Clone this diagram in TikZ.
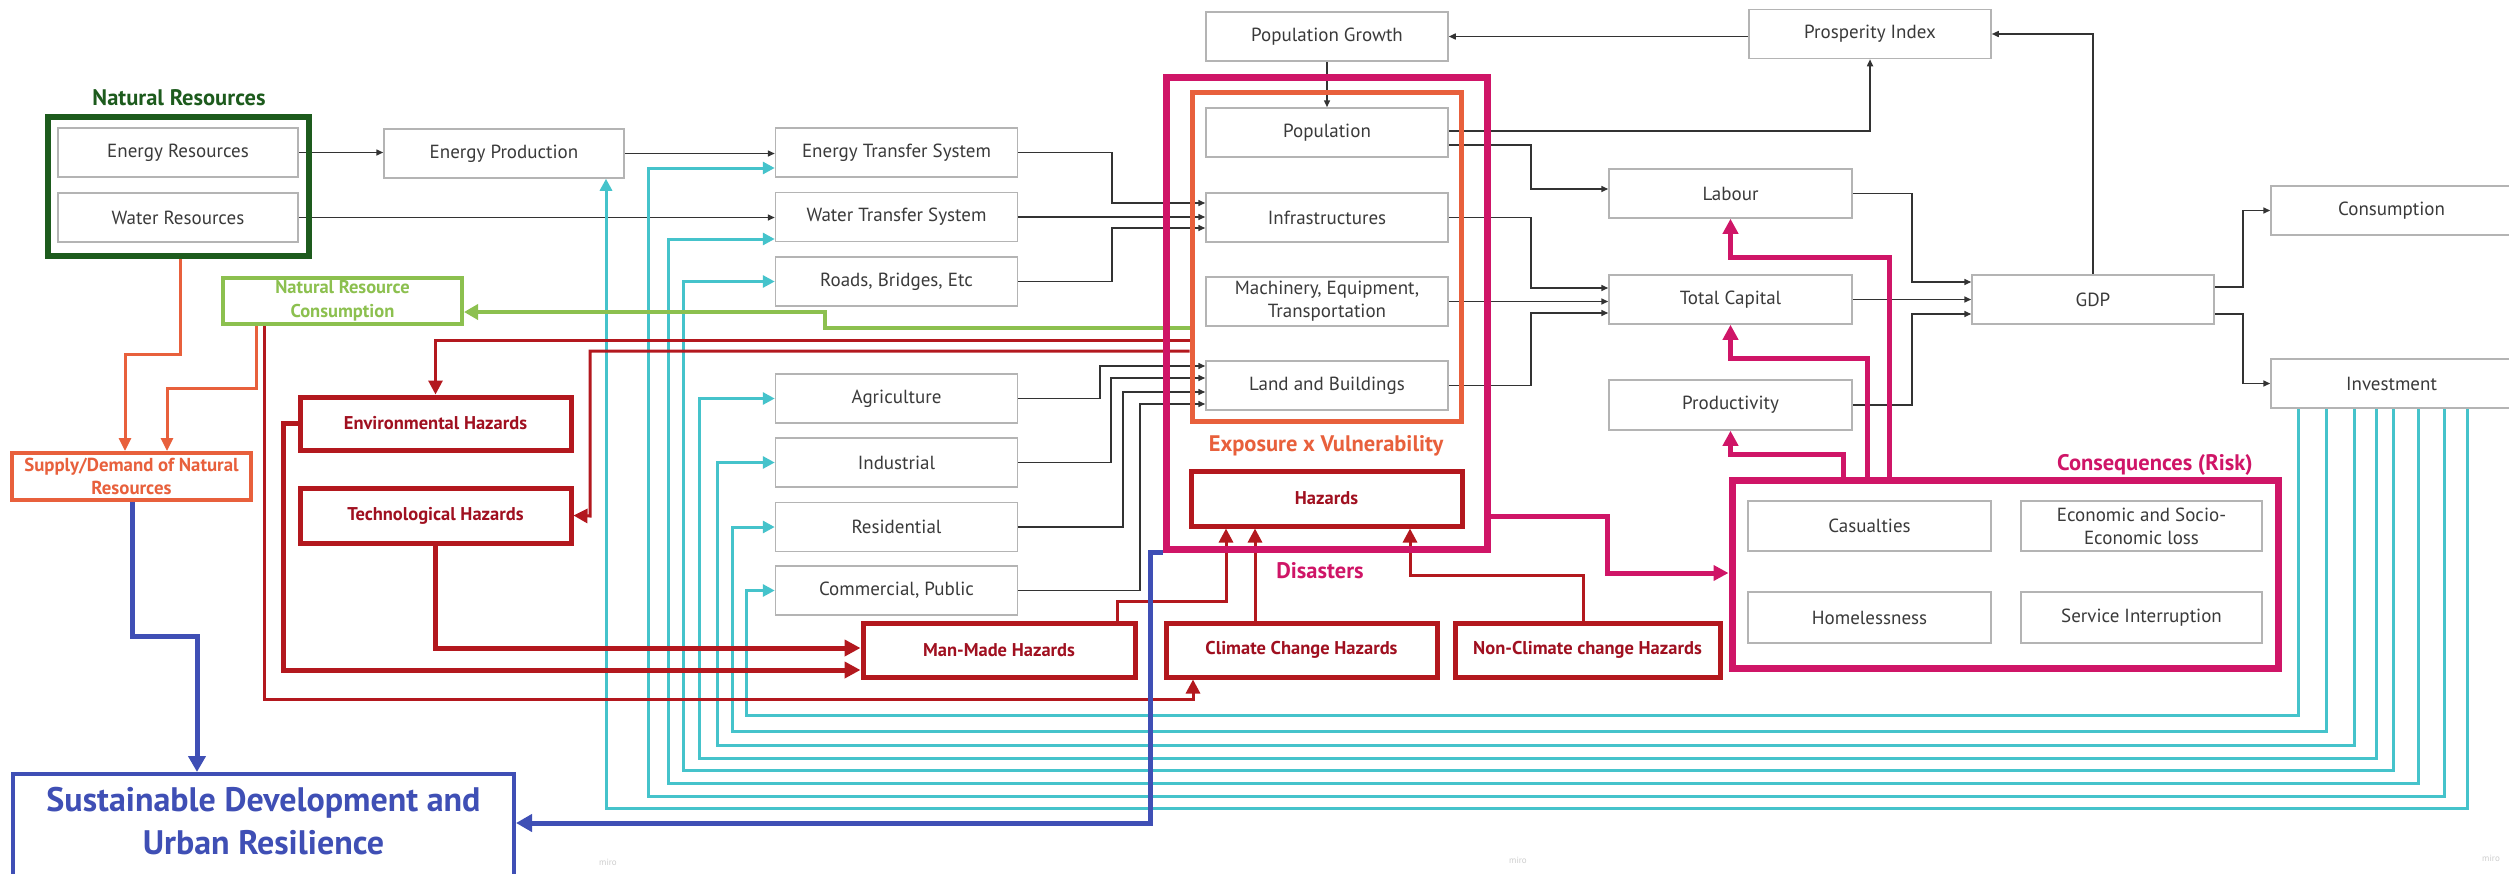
\documentclass[tikz,border=0pt]{standalone}
\usepackage{fontspec}
\setmainfont{PT Sans}
\usetikzlibrary{arrows.meta}

\definecolor{boxgray}{HTML}{B4B4B4}
\definecolor{txtgray}{HTML}{3A3A3A}
\definecolor{linegray}{HTML}{333333}
\definecolor{nrgreen}{HTML}{1D5B1D}
\definecolor{ltgreen}{HTML}{8CC04F}
\definecolor{orng}{HTML}{E8603C}
\definecolor{hzred}{HTML}{B3181E}
\definecolor{hztext}{HTML}{A01020}
\definecolor{mag}{HTML}{CF1567}
\definecolor{cyanc}{HTML}{45C3CB}
\definecolor{sdblue}{HTML}{3F4FB5}

\pgfdeclarelayer{bg}
\pgfsetlayers{bg,main}

\tikzset{
  gbox/.style={draw=boxgray, line width=1.5pt, fill=white, text=txtgray,
    font=\fontsize{19}{23}\selectfont, align=center, inner sep=0pt,
    minimum width=242pt, minimum height=49pt},
  hzbox/.style={draw=hzred, line width=5pt, fill=white, text=hztext,
    font=\bfseries\fontsize{18.5}{22}\selectfont, align=center, inner sep=0pt},
  grp/.style={inner sep=0pt},
  tlabel/.style={font=\bfseries\fontsize{22.5}{26}\selectfont, inner sep=0pt},
  conn/.style={draw=linegray, line width=1.5pt, -{Triangle[length=7pt,width=6pt]}},
  cyanline/.style={draw=cyanc, line width=3pt, -{Triangle[length=12pt,width=12pt]}},
  redthin/.style={draw=hzred, line width=3pt, -{Triangle[length=14pt,width=14pt]}},
  redthick/.style={draw=hzred, line width=5pt, -{Triangle[length=16pt,width=16pt]}},
  orline/.style={draw=orng, line width=3pt, -{Triangle[length=13pt,width=12pt]}},
  grline/.style={draw=ltgreen, line width=4pt, -{Triangle[length=14pt,width=15pt]}},
  magline/.style={draw=mag, line width=5pt, -{Triangle[length=15pt,width=15pt]}},
  blline/.style={draw=sdblue, line width=5pt, -{Triangle[length=16pt,width=17pt]}},
  wmark/.style={font=\fontsize{9}{9}\selectfont, text=black!20}
}

\begin{document}
\begin{tikzpicture}[x=1pt,y=-1pt]
\useasboundingbox (0,0) rectangle (2509,873);
\clip (0,0) rectangle (2509,873);

% ---------- natural resources ----------
\node[tlabel, text=nrgreen] (nrlab) at (179,98) {Natural Resources};
\node[grp, draw=nrgreen, line width=5.5pt, minimum width=261pt, minimum height=139pt] (nrbox) at (178.5,186.5) {};
\node[gbox, minimum width=240pt] (er) at (178,152.5) {Energy Resources};
\node[gbox, minimum width=240pt] (wr) at (178,217.5) {Water Resources};
\node[gbox, minimum width=240pt] (ep) at (504,153.5) {Energy Production};

\node[grp, draw=ltgreen, line width=4pt, fill=white, text=ltgreen, align=center,
      font=\bfseries\fontsize{18.5}{24}\selectfont, minimum width=239pt, minimum height=46pt] (nrc) at (342.5,301) {Natural Resource\\Consumption};
\node[grp, draw=orng, line width=4pt, fill=white, text=orng, align=center,
      font=\bfseries\fontsize{18.8}{23}\selectfont, minimum width=239pt, minimum height=47pt] (sup) at (131.5,476.5) {Supply/Demand of Natural\\Resources};

% ---------- sectors ----------
\node[gbox] (ets) at (896.5,152.5) {Energy Transfer System};
\node[gbox] (wts) at (896.5,217) {Water Transfer System};
\node[gbox] (rbe) at (896.5,281.5) {Roads, Bridges, Etc};
\node[gbox] (agr) at (896.5,398.5) {Agriculture};
\node[gbox] (ind) at (896.5,462.5) {Industrial};
\node[gbox] (res) at (896.5,527) {Residential};
\node[gbox] (com) at (896.5,590.5) {Commercial, Public};

% ---------- hazards ----------
\node[hzbox, minimum width=271pt, minimum height=53pt] (env) at (435.5,423.5) {Environmental Hazards};
\node[hzbox, minimum width=271pt, minimum height=55pt] (tech) at (435.5,515.5) {Technological Hazards};
\node[hzbox, minimum width=272pt, minimum height=54pt] (man) at (999,650) {Man-Made Hazards};
\node[hzbox, minimum width=271pt, minimum height=54pt] (cc) at (1301.5,650) {Climate Change Hazards};
\node[hzbox, minimum width=265pt, minimum height=54pt] (nc) at (1587.5,650) {Non-Climate change Hazards};

% ---------- exposure / disasters ----------
\node[grp, draw=mag, line width=7pt, minimum width=321pt, minimum height=472pt] (dbox) at (1326.5,313) {};
\node[grp, draw=orng, line width=5pt, minimum width=269pt, minimum height=329pt] (ebox) at (1326.5,256.5) {};
\node[gbox] (pg) at (1327,36.5) {Population Growth};
\node[gbox] (pop) at (1327,132.5) {Population};
\node[gbox] (inf) at (1327,217.5) {Infrastructures};
\node[gbox] (mach) at (1327,301.5) {Machinery, Equipment,\\Transportation};
\node[gbox] (land) at (1327,385.5) {Land and Buildings};
\node[tlabel, text=orng] (evlab) at (1326,446) {Exposure x Vulnerability};
\node[hzbox, minimum width=271pt, minimum height=55pt] (haz) at (1326.5,498.5) {Hazards};
\node[tlabel, text=mag] (dislab) at (1320,571) {Disasters};

% ---------- economy ----------
\node[gbox] (pi) at (1870,34) {Prosperity Index};
\node[gbox, minimum width=243pt] (lab) at (1730.5,193.5) {Labour};
\node[gbox, minimum width=243pt] (tc) at (1730.5,299.5) {Total Capital};
\node[gbox, minimum width=243pt, minimum height=50pt] (prod) at (1730.5,405) {Productivity};
\node[gbox] (gdp) at (2093,299.5) {GDP};
\node[gbox, minimum width=241pt] (cons) at (2391.5,210.5) {Consumption};
\node[gbox, minimum width=241pt] (inv) at (2391.5,383.5) {Investment};

% ---------- consequences ----------
\node[grp, draw=mag, line width=7pt, minimum width=546pt, minimum height=188pt] (csq) at (2005,574) {};
\node[tlabel, text=mag] (csqlab) at (2155,465) {Consequences (Risk)};
\node[gbox, minimum width=243pt, minimum height=50pt] (cas) at (1869.5,526) {Casualties};
\node[gbox, minimum width=241pt, minimum height=50pt] (econ) at (2141.5,526) {Economic and Socio-\\Economic loss};
\node[gbox, minimum width=243pt, minimum height=51pt] (home) at (1869.5,617.5) {Homelessness};
\node[gbox, minimum width=241pt, minimum height=51pt] (serv) at (2141.5,617.5) {Service Interruption};

% ---------- outcome ----------
\node[grp, draw=sdblue, line width=4pt, fill=white, minimum width=501pt, minimum height=160pt, anchor=north] (sd) at (263.5,772) {};
\node[font=\bfseries\fontsize{34}{43}\selectfont, text=sdblue, align=center, inner sep=0pt] (sdt) at (263.5,821) {Sustainable Development and\\Urban Resilience};

\node[wmark] (wm1) at (608,862) {miro};
\node[wmark] (wm2) at (1518,860) {miro};
\node[wmark] (wm3) at (2491,858) {miro};

% ---------- connectors ----------
\begin{pgfonlayer}{bg}
% resource flows
\draw[conn] (er.east) -- (er.east -| ep.west);
\draw[conn] (wr.east) -- (wr.east -| wts.west);
\draw[conn] (ep.east) -- (ep.east -| ets.west);
% sectors to exposure
\draw[conn] (ets.east) -| (1112,203) -- (inf.west |- 0,203);
\draw[conn] (wts.east) -- (wts.east -| inf.west);
\draw[conn] (rbe.east) -| (1112,228) -- (inf.west |- 0,228);
\draw[conn] (agr.east) -| (1100,366) -- (land.west |- 0,366);
\draw[conn] (ind.east) -| (1111,378) -- (land.west |- 0,378);
\draw[conn] (res.east) -| (1123,392) -- (land.west |- 0,392);
\draw[conn] (com.east) -| (1140,404) -- (land.west |- 0,404);
% population
\draw[conn] (pg.south) -- (pop.north);
\draw[conn] (pi.west |- pg.east) -- (pg.east);
\draw[conn] (gdp.north) |- (pi.east);
\draw[conn] (pop.east |- 0,131) -| (pi.south);
\draw[conn] (pop.east |- 0,145) -| (1531,189) -- (lab.west |- 0,189);
% capital
\draw[conn] (inf.east) -| (1531,288) -- (tc.west |- 0,288);
\draw[conn] (mach.east) -- (mach.east -| tc.west);
\draw[conn] (land.east) -| (1531,313) -- (tc.west |- 0,313);
% production
\draw[conn] (lab.east) -| (1912,282) -- (gdp.west |- 0,282);
\draw[conn] (tc.east) -- (gdp.west);
\draw[conn] (prod.east) -| (1912,314) -- (gdp.west |- 0,314);
\draw[conn] (gdp.east |- 0,287) -| (2243,210.5) -- (cons.west);
\draw[conn] (gdp.east |- 0,314) -| (2243,383.5) -- (inv.west);

% investment feedback
\draw[cyanline] (inv.south -| 2298,0) |- (746,715) |- (com.west);
\draw[cyanline] (inv.south -| 2326,0) |- (732,731) |- (res.west);
\draw[cyanline] (inv.south -| 2354,0) |- (717,745) |- (ind.west);
\draw[cyanline] (inv.south -| 2376,0) |- (699,758) |- (agr.west);
\draw[cyanline] (inv.south -| 2393,0) |- (683,770) |- (rbe.west);
\draw[cyanline] (inv.south -| 2418,0) |- (668,783) |- (wts.west |- 0,239);
\draw[cyanline] (inv.south -| 2444,0) |- (648,796) |- (ets.west |- 0,168);
\draw[cyanline] (inv.south -| 2467,0) |- (606,808) -- (ep.south -| 606,0);

% resource consumption
\draw[grline] (ebox.west |- 0,328) -| (825,312) -- (nrc.east |- 0,312);
\draw[orline] (nrbox.south -| 180,0) |- (125,354) -- (sup.north -| 125,0);
\draw[orline] (nrc.south -| 256,0) |- (167,388) -- (sup.north -| 167,0);

% hazards
\draw[redthin] (ebox.west |- 0,340) -| (env.north);
\draw[redthin] (ebox.west |- 0,351) -| (590,516) -- (tech.east);
\draw[redthick] (env.west) -| (283,670) -- (man.west |- 0,670);
\draw[redthick] (tech.south) |- (man.west |- 0,648);
\draw[redthin] (nrc.south -| 264,0) |- (1193,699) -- (cc.south -| 1193,0);
\draw[redthin] (man.north -| 1117,0) |- (1226,601) -- (haz.south -| 1226,0);
\draw[redthin] (cc.north -| 1255,0) -- (haz.south -| 1255,0);
\draw[redthin] (nc.north -| 1583,0) |- (1410,575) -- (haz.south -| 1410,0);

% disasters and consequences
\draw[magline] (dbox.east |- 0,516) -| (1607,573) -- (csq.west |- 0,573);
\draw[magline] (csq.north -| 1889,0) |- (1730.5,257) -- (lab.south);
\draw[magline] (csq.north -| 1867,0) |- (1730.5,358) -- (tc.south);
\draw[magline] (csq.north -| 1843,0) |- (1730.5,454) -- (prod.south);

% outcome
\draw[blline] (sup.south -| 132,0) |- (197,636) -- (sd.north -| 197,0);
\draw[blline] (dbox.south west) -| (1150,823) -- (sd.east |- 0,823);
\end{pgfonlayer}
\end{tikzpicture}
\end{document}
